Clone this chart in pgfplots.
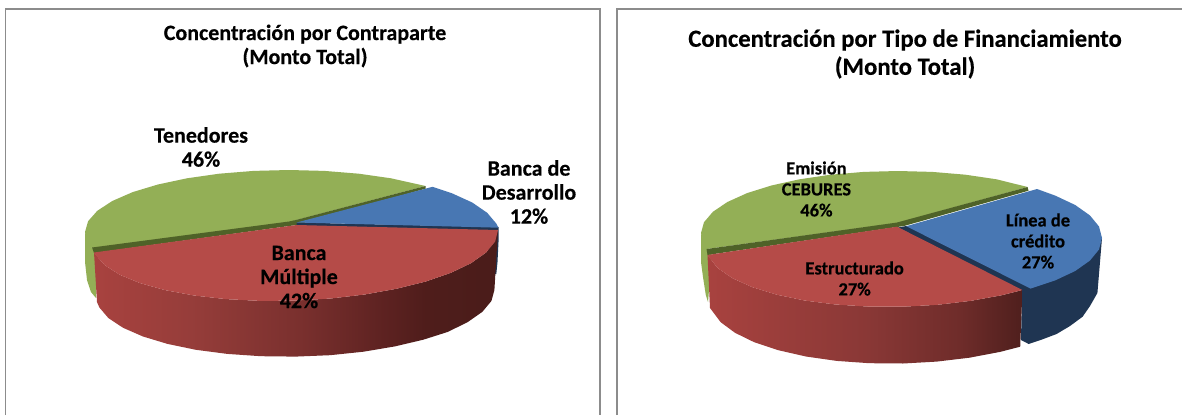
\documentclass[border=0pt]{standalone}
\usepackage{pgfplots}
\pgfplotsset{compat=1.18}
\usepackage{fontspec}
\setmainfont[BoldFeatures={FakeBold=0.35}]{Carlito}
\definecolor{pgreen}{HTML}{93AF56}
\definecolor{pgreend}{HTML}{4F6228}
\definecolor{pblue}{HTML}{4877B3}
\definecolor{pblued}{HTML}{1F3552}
\definecolor{pred}{HTML}{B54B48}
\definecolor{pborder}{HTML}{8C8C8C}
\pgfdeclarehorizontalshading{redsideL}{100bp}{rgb(0bp)=(.659,.259,.247);rgb(25bp)=(.659,.259,.247);rgb(37bp)=(.588,.239,.227);rgb(50.5bp)=(.478,.188,.18);rgb(61bp)=(.365,.133,.129);rgb(66bp)=(.31,.114,.106);rgb(75bp)=(.29,.11,.102);rgb(100bp)=(.29,.11,.102)}
\pgfdeclarehorizontalshading{redsideR}{100bp}{rgb(0bp)=(.659,.259,.247);rgb(25bp)=(.659,.259,.247);rgb(50bp)=(.541,.22,.212);rgb(65bp)=(.435,.173,.165);rgb(75bp)=(.31,.122,.114);rgb(100bp)=(.31,.122,.114)}
\begin{document}
\begin{tikzpicture}
\begin{axis}[
  scale only axis, width=1182pt, height=415pt,
  xmin=0, xmax=1182, ymin=0, ymax=415, y dir=reverse,
  axis lines=none, clip=true,
  every axis plot/.append style={mark=none, forget plot},
]
\addplot[fill=white, draw=none] coordinates {(0,0)(1182,0)(1182,415)(0,415)} --cycle;
% panels
\addplot[draw=pborder, line width=1.6pt] coordinates {(5.5,415)(5.5,9)(600,9)(600,415)};
\addplot[draw=pborder, line width=1.6pt] coordinates {(617,415)(617,9)(1182,9)};

% ===== left pie =====
% green side
\addplot[fill=pgreen, draw=none] coordinates {(85,232)(85,262)(87,280)(91,292)(96,298)(98,252)(92,248)} --cycle;
% green top
\addplot[fill=pgreen, draw=none] coordinates {(425.5,186)(391,178.3)(358.8,173.7)(324.4,170.9)(289,170)(253.6,170.9)(219.2,173.7)(187,178.3)(157.9,184.5)(132.7,192.1)(112.3,201)(97.3,210.8)(88.1,221.2)(85,232)(88.1,242.8)(91.9,248)(289,222)(296.6,220)} --cycle;
% green inner wall
\addplot[fill=pgreend, draw=none] coordinates {(92,247.5)(289,221.5)(296.6,219.8)(425.5,186)(425.5,188.7)(296.6,225)(94,253)} --cycle;
% blue side
\addplot[fill=pblued, draw=none] coordinates {(296.6,222.5)(498.6,227)(498.6,240)(497.5,262)(496.3,274)(488,274)(488,232)(296.6,226)} --cycle;
% blue top
\addplot[fill=pblue, draw=none] coordinates {(296.6,222.5)(432.6,186.8)(451.8,193.2)(472.2,202.5)(487.2,212.8)(496.4,223.7)(498.4,227.7)} --cycle;
% red side
\addplot[shading=redsideL, draw=none] coordinates {(498,230)(495.1,241.7)(486,252.6)(471,263.2)(450.7,272.9)(425.8,281.5)(396.8,288.7)(364.7,294.5)(330.7,298.5)(295.4,300.6)(260.1,300.9)(226,299.1)(194,295.5)(165,290.1)(140,283.1)(119.8,274.8)(104.8,265.2)(95.7,254.9)(94,252.5)(97,302.1)(99.4,307.5)(108.4,318.1)(123.1,327.8)(143,336.5)(167.5,343.9)(195.9,349.8)(227.3,353.9)(260.8,356.2)(295.4,356.6)(330,355.2)(363.5,351.7)(394.9,346.4)(423.3,339.7)(447.8,331.9)(467.7,322.1)(482.4,311.8)(491.4,301)(494.4,290)} --cycle;
% red top
\addplot[fill=pred, draw=none] coordinates {(296.6,225)(498,230)(495.1,241.7)(486,252.6)(471,263.2)(450.7,272.9)(425.8,281.5)(396.8,288.7)(364.7,294.5)(330.7,298.5)(295.4,300.6)(260.1,300.9)(226,299.1)(194,295.5)(165,290.1)(140,283.1)(119.8,274.8)(104.8,265.2)(95.7,254.9)(94,252.5)} --cycle;

% ===== right pie =====
% green side
\addplot[fill=pgreen, draw=none] coordinates {(701,233)(701,262)(703,277)(705.8,295)(708,302)(712,255)(706.9,248)} --cycle;
% green top
\addplot[fill=pgreen, draw=none] coordinates {(1027.6,187)(996.5,179.3)(965.4,174.7)(932.2,171.9)(898,171)(863.8,171.9)(830.6,174.7)(799.5,179.3)(771.4,185.5)(747.1,193.1)(727.4,202)(712.9,211.8)(704,222.2)(701,233)(704,243.8)(706.5,249)(897,223)} --cycle;
% green inner wall
\addplot[fill=pgreend, draw=none] coordinates {(706.5,249)(890,223.5)(897,222.5)(1027.6,187)(1028.5,190.7)(904,226)(897,227)(707.5,255)} --cycle;
% blue side and inner wall
\addplot[fill=pblued, draw=none] coordinates {(1102,238)(1100,262)(1097.4,293)(1090,306)(1082.6,316.7)(1070,326)(1056.6,334)(1042,339.5)(1028.7,344)(1021,340)(1022,291)(898,227.5)(906.2,226)} --cycle;
% blue top
\addplot[fill=pblue, draw=none] coordinates {(906.2,226.2)(1037,189)(1055.2,195.6)(1075.2,205)(1089.9,215.4)(1099,226.5)(1102,238)(1099,249.5)(1089.9,260.6)(1075.2,271)(1055.2,280.4)(1030.6,288.6)} --cycle;
% red side
\addplot[shading=redsideR, draw=none] coordinates {(1022.4,290)(1001.5,295.3)(970.4,300.9)(937.3,304.8)(903,306.7)(868.7,306.6)(835.6,304.5)(804.5,300.5)(776.4,294.6)(752.1,287.1)(732.4,278.2)(717.9,268.2)(709,257.3)(707.5,255)(710,308)(711.9,310.5)(720.7,322.2)(735,332.8)(754.4,342.3)(778.3,350.2)(806,356.5)(836.6,360.9)(869.3,363.2)(903,363.5)(936.7,361.6)(969.4,357.7)(1000,351.9)(1020.2,346.7)} --cycle;
% red top
\addplot[fill=pred, draw=none] coordinates {(897,226.7)(1022.4,290)(1001.5,295.3)(970.4,300.9)(937.3,304.8)(903,306.7)(868.7,306.6)(835.6,304.5)(804.5,300.5)(776.4,294.6)(752.1,287.1)(732.4,278.2)(717.9,268.2)(709,257.3)(707.5,255)} --cycle;

% ===== text =====
\tikzset{lab/.style={align=center, inner sep=0pt, text=black}}
\node[lab, font=\fontsize{22}{24}\selectfont\bfseries] at (axis cs:305,46) {Concentración por Contraparte\\(Monto Total)};
\node[lab, font=\fontsize{24.7}{28}\selectfont\bfseries] at (axis cs:905,54) {Concentración por Tipo de Financiamiento\\(Monto Total)};
\node[lab, font=\fontsize{22}{24}\selectfont\bfseries] at (axis cs:201,147) {Tenedores\\46\%};
\node[lab, font=\fontsize{22}{24}\selectfont\bfseries] at (axis cs:529,192) {Banca de\\Desarrollo\\12\%};
\node[lab, font=\fontsize{22}{24}\selectfont\bfseries] at (axis cs:299,277) {Banca\\Múltiple\\42\%};
\node[lab, font=\fontsize{18.5}{21}\selectfont\bfseries] at (axis cs:816.4,189) {Emisión\\CEBURES\\46\%};
\node[lab, font=\fontsize{18.5}{21}\selectfont\bfseries] at (axis cs:1038,241) {Línea de\\crédito\\27\%};
\node[lab, font=\fontsize{18.5}{21}\selectfont\bfseries] at (axis cs:854.6,278.5) {Estructurado\\27\%};
\end{axis}
\end{tikzpicture}
\end{document}
